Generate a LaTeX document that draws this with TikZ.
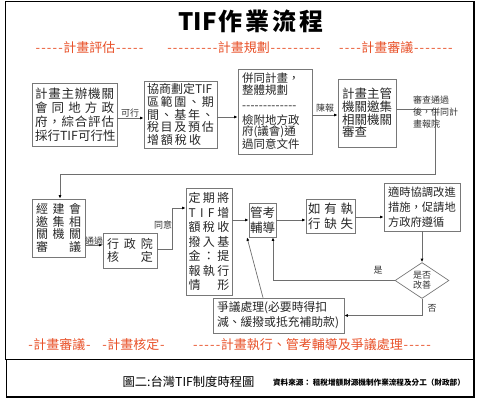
\documentclass[tikz,border=0pt]{standalone}
\usepackage{fontspec}
\setmainfont{Noto Sans CJK TC}
\usetikzlibrary{arrows.meta,shapes.geometric}
\definecolor{bd}{RGB}{120,120,120}
\definecolor{ln}{RGB}{110,110,110}
\definecolor{rd}{RGB}{232,80,40}
\newcommand\J[1]{\makebox[\linewidth][s]{#1}}
\newcommand\hy{\makebox[5.7pt]{-}}
\newcommand\dashrow{\leavevmode\hbox to 55pt{\leaders\hbox to 4.2pt{\hss-\hss}\hfill}}
\tikzset{
  box/.style={draw=bd, line width=0.7pt, align=left, text=black!85, inner ysep=2pt},
  arr/.style={draw=ln, line width=0.7pt, -{Latex[length=3.5pt,width=3pt,color=black]}},
  plain/.style={draw=ln, line width=0.7pt},
  lab/.style={font=\fontsize{9}{12}\selectfont, text=black!80, inner sep=0pt},
  redlab/.style={text=rd, font=\fontsize{13}{13}\selectfont, inner sep=0pt},
  frame/.style={draw=black, line width=1.2pt}
}
\begin{document}
\begin{tikzpicture}[x=1pt,y=-1pt]
\useasboundingbox (0,0) rectangle (480,404);
% frames
\draw[frame] (5.5,1.5) rectangle (474,359.5);
\draw[frame] (6.5,359.5) rectangle (474,397);
% title
\node[font=\fontsize{24}{25}\selectfont\bfseries, inner sep=0pt] (title) at (251,21) {TIF\kern2pt 作\kern3pt 業\kern3pt 流\kern3pt 程};
% red headings
\node[redlab] (r1) at (89.5,48) {\hy\hy\hy\hy\hy 計畫評估\hy\hy\hy\hy\hy};
\node[redlab] (r2) at (244,48) {\hy\hy\hy\hy\hy\hy\hy\hy\hy 計畫規劃\hy\hy\hy\hy\hy\hy\hy\hy\hy};
\node[redlab] (r3) at (396,48) {\hy\hy\hy\hy 計畫審議\hy\hy\hy\hy\hy\hy\hy};
\node[redlab] (r4) at (59.5,345) {\hy 計畫審議\hy};
\node[redlab] (r5) at (133.5,345) {\hy 計畫核定\hy};
\node[redlab] (r6) at (312,345) {\hy\hy\hy\hy\hy 計畫執行、管考輔導及爭議處理\hy\hy\hy\hy\hy};
% boxes
\node[box, text width=79pt, inner xsep=3pt, minimum height=63pt, font=\fontsize{12.5}{14}\selectfont] (A) at (74.5,114.5)
 {\J{計\hfill 畫\hfill 主\hfill 辦\hfill 機\hfill 關}\\\J{會\hfill 同\hfill 地\hfill 方\hfill 政}\\\J{府\hfill ，\hfill 綜\hfill 合\hfill 評\hfill 估}\\\J{採\hfill 行\hfill TIF\hfill 可\hfill 行\hfill 性}};
\node[box, text width=67pt, inner xsep=3pt, minimum height=67pt, font=\fontsize{12}{12.8}\selectfont] (B) at (180.5,114.5)
 {協商劃定TIF\\\J{區\hfill 範\hfill 圍\hfill 、\hfill 期}\\\J{間\hfill 、\hfill 基\hfill 年\hfill 、}\\\J{稅\hfill 目\hfill 及\hfill 預\hfill 估}\\\makebox[54pt][s]{增\hfill 額\hfill 稅\hfill 收}};
\node[box, text width=66pt, inner xsep=4pt, minimum height=85pt, font=\fontsize{11.5}{11.8}\selectfont] (C) at (275,111.5)
 {併同計畫，\\整體規劃\\[3pt]\dashrow\\[3pt]檢附地方政\\府(議會)通\\過同意文件};
\node[box, text width=50pt, inner xsep=4pt, minimum height=68pt, font=\fontsize{12.5}{12.7}\selectfont] (D) at (367,113)
 {計畫主管\\機關邀集\\相關機關\\審查};
\node[box, text width=45pt, inner xsep=4pt, minimum height=58pt, font=\fontsize{12}{12.7}\selectfont] (E) at (58.5,228)
 {\J{經\hfill 建\hfill 會}\\\J{邀\hfill 集\hfill 相}\\\J{關\hfill 機\hfill 關}\\\J{審\hfill 議}};
\node[box, text width=46pt, inner xsep=4pt, minimum height=35pt, font=\fontsize{12}{13}\selectfont] (F) at (130,250.5)
 {\J{行\hfill 政\hfill 院}\\\J{核\hfill 定}};
\node[box, text width=41pt, inner xsep=2.5pt, minimum height=107pt, font=\fontsize{12}{14.5}\selectfont] (G) at (209,241.5)
 {\J{定\hfill 期\hfill 將}\\\J{\makebox[26pt][s]{T\hfill I\hfill F}\hfill 增}\\\J{額\hfill 稅\hfill 收}\\\J{撥\hfill 入\hfill 基}\\\J{金\hfill ：\hfill 提}\\\J{報\hfill 執\hfill 行}\\\J{情\hfill 形}};
\node[box, text width=25pt, inner xsep=1pt, minimum height=34pt, font=\fontsize{12.5}{15}\selectfont] (H) at (262.5,220)
 {管考\\輔導};
\node[box, text width=45pt, inner xsep=2pt, minimum height=34pt, font=\fontsize{12.5}{15}\selectfont] (I) at (330.5,216)
 {\J{如\hfill 有\hfill 執}\\\J{行\hfill 缺\hfill 失}};
\node[box, text width=68pt, inner xsep=4pt, minimum height=48pt, font=\fontsize{11.3}{15}\selectfont] (J) at (422,207)
 {適時協調改進\\措施，促請地\\方政府遵循};
\node[draw=bd, line width=0.7pt, shape=diamond, inner sep=0pt, minimum width=54pt, minimum height=29pt, align=center, text=black!80, font=\fontsize{9}{10}\selectfont] (K) at (422,280.5)
 {是否\\改善};
\node[box, text width=123pt, inner xsep=4pt, minimum height=35pt, font=\fontsize{11.8}{15}\selectfont] (L) at (278.5,315.5)
 {爭議處理(必要時得扣\\減、緩撥或抵充補助款)};
% connectors
\draw[arr] ([yshift=-3.5pt]A.east) -- ([yshift=-3.5pt]A.east -| B.west);
\node[lab] (lA) at (130,113) {可行};
\draw[arr] ([yshift=-2.5pt]B.east) -- ([yshift=-2.5pt]B.east -| C.west);
\draw[arr] ([yshift=-3.5pt]C.east) -- ([yshift=-3.5pt]C.east -| D.west);
\node[lab] (lC) at (325,108) {陳報};
\coordinate (de) at (435,174);
\draw[arr] ([yshift=4pt]D.east) -| (de) -| ([xshift=1.5pt]E.north);
\node[lab, anchor=north west, align=left] (lD) at (413,96) {審查通過\\後，併同計\\畫報院};
\draw[arr] ([yshift=-17pt]E.east) -- ([yshift=-17pt]E.east -| F.west);
\node[lab] (lE) at (94,241) {通過};
\coordinate (fg) at (172,208);
\draw[arr] ([yshift=1.5pt]F.east) -| (fg) -- (fg -| G.west);
\node[lab] (lF) at (163,225) {同意};
\draw[arr] ([yshift=21.5pt]G.east) -- ([yshift=21.5pt]G.east -| H.west);
\draw[arr] (H.east) -- (H.east -| I.west);
\draw[arr] ([yshift=-1pt]I.east) -- ([yshift=-1pt]I.east -| J.west);
\draw[arr] (J.south) -- (K.north);
\draw[arr] (K.west) -| ([xshift=10.5pt]H.south);
\node[lab] (lK1) at (378,270) {是};
\draw[arr] (K.south) |- (L.east);
\node[lab] (lK2) at (432,308) {否};
\draw[arr] ([xshift=-15.5pt]L.north) -- ([xshift=-15.5pt]H.south);
% caption
\node[inner sep=0pt, font=\fontsize{12.3}{13}\selectfont] (cap) at (188.5,382) {圖二:台灣TIF制度時程圖};
\node[inner sep=0pt, font=\fontsize{7.6}{8}\selectfont\bfseries] (src) at (369,383) {資料來源：\ 租稅增額財源機制作業流程及分工（財政部）};
\end{tikzpicture}
\end{document}
